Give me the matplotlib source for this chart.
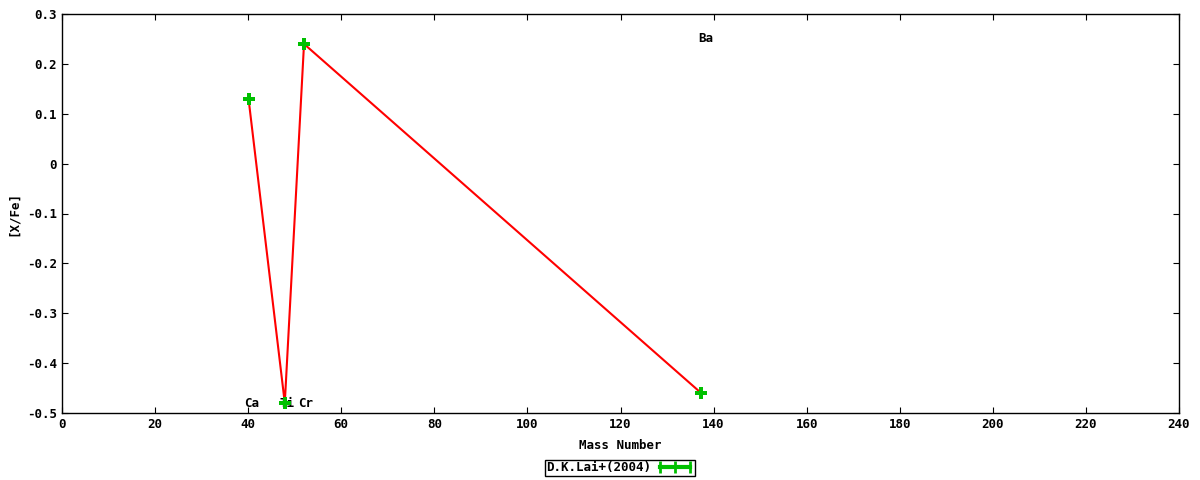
import matplotlib.pyplot as plt
from matplotlib.lines import Line2D

# data
elements = ['Ca', 'Ti', 'Cr', 'Ba']
mass = [40.08, 47.87, 52.0, 137.33]
xfe = [0.13, -0.48, 0.24, -0.46]

# where the element names sit
label_x = [40.8, 48.3, 52.4, 138.4]
label_y = [-0.48, -0.48, -0.48, 0.25]

green = '#00c000'
mono = 'DejaVu Sans Mono'

fig = plt.figure(figsize=[12, 4.8], dpi=100)
ax = fig.add_axes([62 / 1200, 1 - 413 / 480, 1117 / 1200, 399 / 480])

ax.plot(mass, xfe, color='red', lw=1.5, zorder=2)
ax.plot(mass, xfe, ls='none', marker='P', ms=9, color=green, mew=0, zorder=3)

for el, lx, ly in zip(elements, label_x, label_y):
    ax.text(lx, ly, el, ha='center', va='center', fontsize=9, family=mono,
            fontweight='bold', zorder=1)

ax.set_xlim(0, 240)
ax.set_ylim(-0.5, 0.3)
ax.set_xticks(range(0, 241, 20))
ax.set_yticks([-0.5, -0.4, -0.3, -0.2, -0.1, 0, 0.1, 0.2, 0.3])
ax.set_yticklabels(['-0.5', '-0.4', '-0.3', '-0.2', '-0.1', '0', '0.1', '0.2', '0.3'])
ax.tick_params(direction='in', top=True, right=True, length=4, labelsize=9)
for lab in ax.get_xticklabels() + ax.get_yticklabels():
    lab.set_family(mono)
    lab.set_fontweight('bold')
for sp in ax.spines.values():
    sp.set_linewidth(1)

ax.set_xlabel('Mass Number', family=mono, fontweight='bold', fontsize=9, labelpad=6)
ax.set_ylabel('[X/Fe]', family=mono, fontweight='bold', fontsize=9, labelpad=5)

handle = Line2D([], [], color=green, lw=3, marker='|', ms=9, mew=2)
leg = fig.legend([handle], ['D.K.Lai+(2004)'], loc='center', bbox_to_anchor=(620 / 1200, 1 - 468 / 480),
                 numpoints=3, markerfirst=False, fancybox=False, framealpha=1,
                 edgecolor='black', borderpad=0.1, handlelength=3.0, handletextpad=0.4,
                 prop={'family': mono, 'weight': 'bold', 'size': 9})
leg.get_frame().set_linewidth(1)

fig.savefig('out.png', dpi=100)
